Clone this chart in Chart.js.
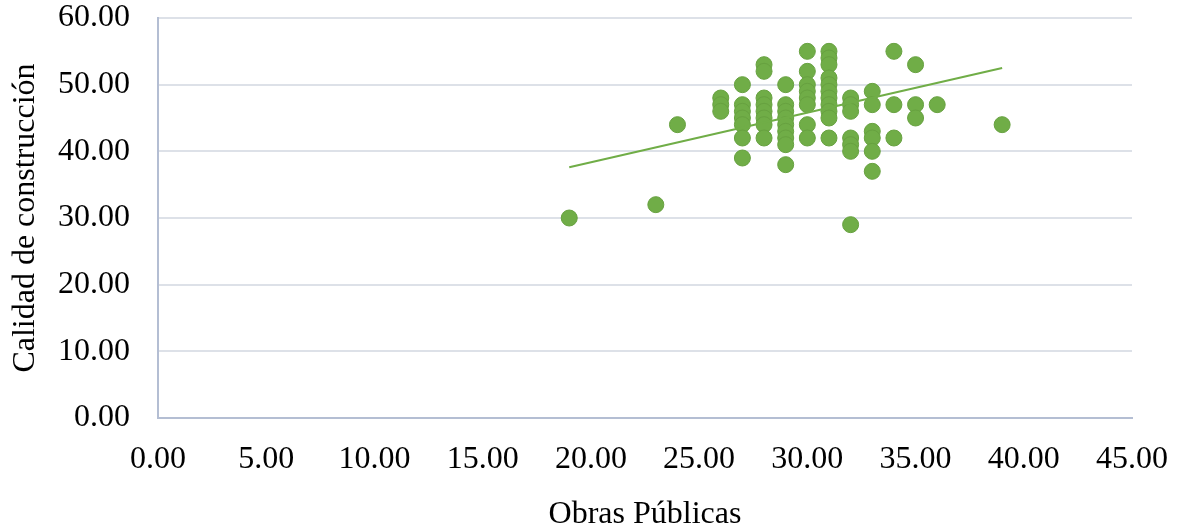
<!DOCTYPE html>
<html>
<head>
<meta charset="utf-8">
<script src="https://cdn.jsdelivr.net/npm/chart.js@4"></script>
<style>
  html, body { margin: 0; padding: 0; background: #fff; }
  #wrap { width: 1178px; height: 531px; }
</style>
</head>
<body>
<div id="wrap"><canvas id="scatterChart" width="1178" height="531"></canvas></div>
<script>
// Obras Públicas (x) vs Calidad de construcción (y)
const obrasX = [
  19, 23, 24,
  26, 26, 26,
  27, 27, 27, 27, 27, 27, 27,
  28, 28, 28, 28, 28, 28, 28, 28,
  29, 29, 29, 29, 29, 29, 29, 29, 29,
  30, 30, 30, 30, 30, 30, 30, 30,
  31, 31, 31, 31, 31, 31, 31, 31, 31, 31, 31,
  32, 32, 32, 32, 32, 32, 32,
  33, 33, 33, 33, 33, 33,
  34, 34, 34,
  35, 35, 35,
  36, 39
];
const calidadY = [
  30, 32, 44,
  48, 47, 46,
  50, 47, 46, 45, 44, 42, 39,
  53, 52, 48, 47, 46, 45, 44, 42,
  50, 47, 46, 45, 44, 43, 42, 41, 38,
  55, 52, 50, 49, 48, 47, 44, 42,
  55, 54, 53, 51, 50, 49, 48, 47, 46, 45, 42,
  48, 47, 46, 42, 41, 40, 29,
  49, 47, 43, 42, 40, 37,
  55, 47, 42,
  53, 47, 45,
  47, 44
];
// linear trend line endpoints
const trendX = [19, 39];
const trendY = [37.6, 52.5];

const xTitle = 'Obras Públicas';
const yTitle = 'Calidad de construcción';

const points = obrasX.map((x, i) => ({ x: x, y: calidadY[i] }));
const trend = trendX.map((x, i) => ({ x: x, y: trendY[i] }));

const serif = 'Liberation Serif, "Times New Roman", serif';
const green = '#70AD47';

const ctx = document.getElementById('scatterChart').getContext('2d');
new Chart(ctx, {
  type: 'scatter',
  data: {
    datasets: [
      {
        label: 'Tendencia',
        type: 'line',
        data: trend,
        borderColor: green,
        borderWidth: 2,
        pointRadius: 0,
        fill: false,
        order: 1,
      },
      {
        label: 'Datos',
        data: points,
        backgroundColor: green,
        borderColor: '#67A140',
        borderWidth: 1,
        pointRadius: 8,
        order: 2,
      },
    ],
  },
  options: {
    responsive: false,
    animation: false,
    layout: { padding: { left: 0, right: 46, top: 18, bottom: 0 } },
    plugins: {
      legend: { display: false },
      tooltip: { enabled: false },
    },
    scales: {
      x: {
        type: 'linear',
        min: 0,
        max: 45,
        ticks: {
          stepSize: 5,
          color: '#000',
          font: { family: serif, size: 32 },
          padding: 14,
          maxRotation: 0,
          callback: (v) => v.toFixed(2),
        },
        grid: { display: false },
        border: { display: true, color: '#B4BED3', width: 2 },
        title: {
          display: true,
          text: xTitle,
          color: '#000',
          font: { family: serif, size: 32, lineHeight: 1 },
          padding: { top: 24, bottom: 0 },
        },
        afterFit: (scale) => {
          scale.height = 113;
          scale.paddingLeft = 0;
          scale.paddingRight = 0;
        },
      },
      y: {
        min: 0,
        max: 60,
        ticks: {
          stepSize: 10,
          color: '#000',
          font: { family: serif, size: 32 },
          padding: 28,
          callback: (v) => v.toFixed(2),
        },
        grid: { color: '#DDE1E8', lineWidth: 2, drawTicks: false },
        border: { display: true, color: '#B4BED3', width: 2 },
        title: {
          display: true,
          text: yTitle,
          color: '#000',
          font: { family: serif, size: 32 },
          padding: { top: 6, bottom: 0 },
        },
        afterFit: (scale) => {
          scale.width = 158;
          scale.paddingTop = 0;
          scale.paddingBottom = 0;
        },
      },
    },
  },
});
</script>
</body>
</html>
